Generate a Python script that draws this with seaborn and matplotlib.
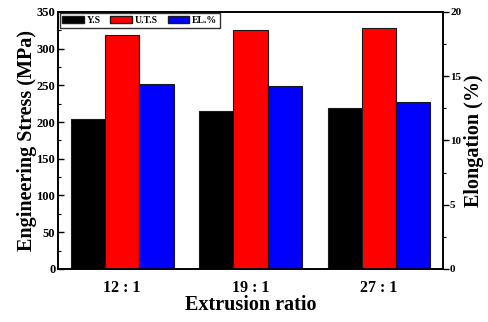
import numpy as np
import pandas as pd
import matplotlib
matplotlib.use("Agg")
import matplotlib.pyplot as plt
import matplotlib.patches as mpatches
from matplotlib.ticker import MultipleLocator
import seaborn as sns

# values
ratios = ["12 : 1", "19 : 1", "27 : 1"]
yield_strength = [204, 215, 219]     # MPa
tensile_strength = [319, 325, 328]   # MPa
elongation = [14.4, 14.2, 13.0]      # %
series = ["Y.S", "U.T.S", "EL.%"]
colors = ["#000000", "#ff0000", "#0000ff"]

sns.set_theme(style="ticks")
plt.rcParams["font.family"] = ["Liberation Serif", "DejaVu Serif"]
plt.rcParams["font.weight"] = "bold"
plt.rcParams.update({"text.color": "black", "axes.labelcolor": "black",
                     "xtick.color": "black", "ytick.color": "black"})

stress = pd.DataFrame({
    "ratio": ratios * 2,
    "value": yield_strength + tensile_strength,
    "series": ["Y.S"] * 3 + ["U.T.S"] * 3,
})
elong = pd.DataFrame({"ratio": ratios, "value": elongation, "series": ["EL.%"] * 3})
pal = dict(zip(series, colors))

fig = plt.figure(figsize=(4.88, 3.22), dpi=100)
ax = fig.add_axes([0.119, 0.165, 0.789, 0.798])
sns.barplot(data=stress, x="ratio", y="value", hue="series", hue_order=series,
            palette=pal, width=0.8, dodge=True, edgecolor="#1a1a1a", linewidth=0.8,
            saturation=1, legend=False, ax=ax)
ax2 = ax.twinx()
sns.barplot(data=elong, x="ratio", y="value", hue="series", hue_order=series,
            palette=pal, width=0.8, dodge=True, edgecolor="#1a1a1a", linewidth=0.8,
            saturation=1, legend=False, ax=ax2)

ax.set_xlim(-0.5, 2.5)
ax.set_ylim(0, 350)
ax2.set_ylim(0, 20)
ax.yaxis.set_major_locator(MultipleLocator(50))
ax.yaxis.set_minor_locator(MultipleLocator(25))
ax2.yaxis.set_major_locator(MultipleLocator(5))
ax2.yaxis.set_minor_locator(MultipleLocator(2.5))

ax.set_xlabel("Extrusion ratio", fontsize=14.5, fontweight="bold", labelpad=-1)
ax.set_ylabel("Engineering Stress (MPa)", fontsize=14.5, fontweight="bold", labelpad=0)
ax2.set_ylabel("Elongation (%)", fontsize=14.5, fontweight="bold", labelpad=2)

ax.tick_params(axis="y", direction="in", length=4, width=1, labelsize=9, pad=2)
ax.tick_params(axis="y", which="minor", direction="in", length=2, width=0.8)
ax.tick_params(axis="x", direction="in", length=0, labelsize=11.5, pad=8)
ax2.tick_params(axis="y", direction="out", length=4, width=1, labelsize=8, pad=1)
ax2.tick_params(axis="y", which="minor", direction="out", length=2, width=0.8)
ax2.set_xlabel("")
for a in (ax, ax2):
    for s in a.spines.values():
        s.set_linewidth(1.2)
        s.set_color("black")
for lab in ax.get_xticklabels() + ax.get_yticklabels() + ax2.get_yticklabels():
    lab.set_fontweight("bold")

handles = [mpatches.Patch(facecolor=c, edgecolor="#1a1a1a", label=s)
           for s, c in zip(series, colors)]
leg = ax2.legend(handles=handles, loc="upper left", ncol=3,
                 frameon=True, fancybox=False, edgecolor="black",
                 handlelength=2.2, handleheight=0.75, handletextpad=0.3,
                 columnspacing=1.0, borderpad=0.3, borderaxespad=0.15,
                 prop={"weight": "bold", "size": 7})
leg.get_frame().set_linewidth(1.0)

fig.savefig("out.png", dpi=100)
